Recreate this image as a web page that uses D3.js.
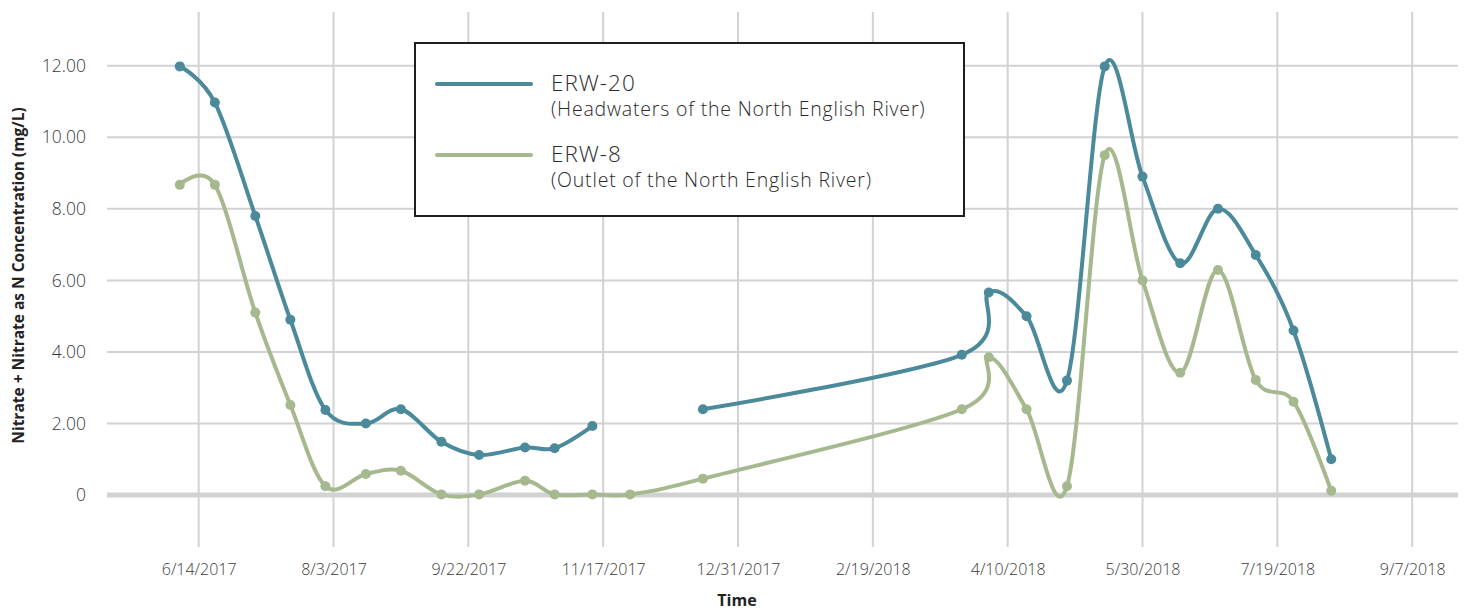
<!DOCTYPE html>
<html>
<head>
<meta charset="utf-8">
<script src="https://cdn.jsdelivr.net/npm/d3@7"></script>
<style>
    body { margin: 0; background: #fff; }
    text { font-family: "Open Sans", Lato, sans-serif; }
</style>
</head>
<body>
<div id="graph"></div>
<script>
// sample dates (shared by both sites)
const sampleDates = [
    '6/7/2017', '6/20/2017', '7/5/2017', '7/18/2017', '7/31/2017', '8/15/2017',
    '8/28/2017', '9/12/2017', '9/26/2017', '10/13/2017', '10/24/2017', '11/7/2017',
    '11/21/2017', '12/18/2017', '3/24/2018', '4/3/2018', '4/17/2018', '5/2/2018',
    '5/16/2018', '5/30/2018', '6/13/2018', '6/27/2018', '7/11/2018', '7/25/2018', '8/8/2018'
];
const erw20 = [11.98, 10.97, 7.8, 4.9, 2.38, 2.0, 2.4, 1.49, 1.12, 1.33, 1.31, 1.93,
    null, 2.4, 3.92, 5.66, 5.0, 3.2, 11.98, 8.9, 6.48, 8.0, 6.71, 4.6, 1.0];
const erw8 = [8.67, 8.67, 5.1, 2.52, 0.25, 0.59, 0.68, 0.02, 0.02, 0.40, 0.02, 0.02,
    0.02, 0.46, 2.4, 3.85, 2.4, 0.25, 9.5, 6.0, 3.42, 6.29, 3.22, 2.61, 0.12];

const xTickDates = ['6/14/2017', '8/3/2017', '9/22/2017', '11/11/2017', '12/31/2017',
    '2/19/2018', '4/10/2018', '5/30/2018', '7/19/2018', '9/7/2018'];
const xTickLabels = ['6/14/2017', '8/3/2017', '9/22/2017', '11/17/2017', '12/31/2017',
    '2/19/2018', '4/10/2018', '5/30/2018', '7/19/2018', '9/7/2018'];
const yTicks = [0, 2, 4, 6, 8, 10, 12];

const seriesNames = ['ERW-20', 'ERW-8'];
const seriesNotes = ['(Headwaters of the North English River)', '(Outlet of the North English River)'];
const seriesColors = ['#4b8a9a', '#a6b88e'];

const parse = d3.timeParse('%m/%d/%Y');

const svgWidth = 1465;
const svgHeight = 611;

const svg = d3.select('#graph')
    .append('svg')
    .attr('width', svgWidth)
    .attr('height', svgHeight);

const x = d3.scaleTime()
    .domain([parse('5/11/2017'), parse('9/24/2018')])
    .range([107, 1458]);

const y = d3.scaleLinear()
    .domain([-1.45, 13.5])
    .range([547, 12]);

// grid
svg.append('g')
    .selectAll('line')
    .data(xTickDates)
    .enter()
    .append('line')
    .attr('x1', d => x(parse(d)))
    .attr('x2', d => x(parse(d)))
    .attr('y1', y.range()[1])
    .attr('y2', y.range()[0])
    .attr('stroke', '#d2d2d4')
    .attr('stroke-width', 2);

svg.append('g')
    .selectAll('line')
    .data(yTicks)
    .enter()
    .append('line')
    .attr('x1', x.range()[0])
    .attr('x2', x.range()[1])
    .attr('y1', d => y(d))
    .attr('y2', d => y(d))
    .attr('stroke', '#d2d2d4')
    .attr('stroke-width', d => d === 0 ? 5 : 2);

// axes (labels only)
const yAxis = d3.axisLeft(y)
    .tickValues(yTicks)
    .tickSize(0)
    .tickPadding(0)
    .tickFormat(d => d === 0 ? '0' : d3.format('.2f')(d));

svg.append('g')
    .attr('transform', 'translate(86, 0)')
    .call(yAxis)
    .call(g => g.select('.domain').remove())
    .selectAll('text')
    .attr('font-size', 17.5)
    .attr('font-weight', 300)
    .attr('fill', '#3a3a3a')
    .style('font-family', '"Open Sans", sans-serif');

const xAxis = d3.axisBottom(x)
    .tickValues(xTickDates.map(parse))
    .tickSize(0)
    .tickPadding(0)
    .tickFormat((d, i) => xTickLabels[i]);

svg.append('g')
    .attr('transform', 'translate(0, 564)')
    .call(xAxis)
    .call(g => g.select('.domain').remove())
    .selectAll('text')
    .attr('font-size', 16)
    .attr('font-weight', 300)
    .attr('fill', '#3a3a3a')
    .style('font-family', '"Open Sans", sans-serif');

// axis titles
svg.append('text')
    .attr('transform', `translate(24, ${(y.range()[0] + y.range()[1]) / 2 - 4}) rotate(-90)`)
    .attr('text-anchor', 'middle')
    .attr('font-size', 15.5)
    .attr('font-weight', 'bold')
    .attr('fill', '#222')
    .text('Nitrate + Nitrate as N Concentration (mg/L)');

svg.append('text')
    .attr('x', 737)
    .attr('y', 606)
    .attr('text-anchor', 'middle')
    .attr('font-size', 16)
    .attr('font-weight', 'bold')
    .attr('fill', '#222')
    .text('Time');

// lines + dots
const line = d3.line()
    .defined(d => d.v !== null)
    .x(d => x(d.date))
    .y(d => y(d.v))
    .curve(d3.curveCardinal.tension(0));

[erw8, erw20].forEach((vals) => {
    const k = vals === erw20 ? 0 : 1;
    const pts = sampleDates.map((d, i) => ({ date: parse(d), v: vals[i] }));

    svg.append('path')
        .datum(pts)
        .attr('d', line)
        .attr('fill', 'none')
        .attr('stroke', seriesColors[k])
        .attr('stroke-width', 4)
        .attr('stroke-linejoin', 'round')
        .attr('stroke-linecap', 'round');

    svg.append('g')
        .selectAll('circle')
        .data(pts.filter(p => p.v !== null))
        .enter()
        .append('circle')
        .attr('cx', d => x(d.date))
        .attr('cy', d => y(d.v))
        .attr('r', 5)
        .attr('fill', seriesColors[k]);
});

// legend
const legend = svg.append('g').attr('id', 'legend');

legend.append('rect')
    .attr('x', 415)
    .attr('y', 43)
    .attr('width', 549)
    .attr('height', 173)
    .attr('fill', '#fff')
    .attr('stroke', '#1e1e1e')
    .attr('stroke-width', 2);

const items = legend.selectAll('.item')
    .data(seriesNames)
    .enter()
    .append('g')
    .attr('class', 'item')
    .attr('transform', (d, i) => `translate(0, ${84 + i * 71})`);

items.append('line')
    .attr('x1', 437)
    .attr('x2', 531)
    .attr('stroke', (d, i) => seriesColors[i])
    .attr('stroke-width', 4)
    .attr('stroke-linecap', 'round');

items.append('text')
    .attr('x', 551)
    .attr('y', 7)
    .attr('font-size', 22.5)
    .attr('font-weight', 300)
    .attr('letter-spacing', 1)
    .attr('fill', '#2a2a2a')
    .text(d => d);

items.append('text')
    .attr('x', 551)
    .attr('y', 32)
    .attr('font-size', 19.5)
    .attr('font-weight', 300)
    .attr('letter-spacing', 0.8)
    .attr('fill', '#2a2a2a')
    .text((d, i) => seriesNotes[i]);
</script>
</body>
</html>
